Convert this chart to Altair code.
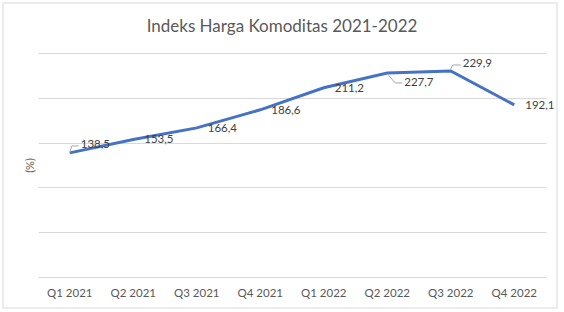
import altair as alt
import pandas as pd

quarters = ["Q1 2021", "Q2 2021", "Q3 2021", "Q4 2021", "Q1 2022", "Q2 2022", "Q3 2022", "Q4 2022"]
values = [138.5, 153.5, 166.4, 186.6, 211.2, 227.7, 229.9, 192.1]
labels = [f"{v:.1f}".replace(".", ",") for v in values]

df = pd.DataFrame({"q": quarters, "v": values, "label": labels})

FONT = "Lato"
x = alt.X("q:N", sort=quarters, title=None,
          axis=alt.Axis(labelAngle=0, ticks=False, domain=False, grid=False,
                        labelPadding=10, labelFontSize=11.5, labelColor="#595959", labelFont=FONT))
y = alt.Y("v:Q", scale=alt.Scale(domain=[0, 250]), title="(%)",
          axis=alt.Axis(values=[0, 50, 100, 150, 200, 250], labels=False, ticks=False, domain=False,
                        gridColor="#d9d9d9", gridWidth=1, titlePadding=3,
                        titleFontSize=11, titleFontWeight="normal", titleColor="#595959", titleFont=FONT))

base = alt.Chart(df)

frame = alt.Chart(alt.Data(values=[{"a": 1}])).mark_rect(
    filled=False, stroke="#d9d9d9", strokeWidth=1
).encode(x=alt.value(-35), x2=alt.value(519), y=alt.value(-50), y2=alt.value(255))

line = base.mark_line(color="#4472C4", strokeWidth=3).encode(x=x, y=y)

txt_style = dict(font=FONT, fontSize=11.5, color="#404040", align="left", baseline="middle")

default_q = ["Q2 2021", "Q3 2021", "Q4 2021", "Q1 2022", "Q4 2022"]
t_default = base.transform_filter(alt.FieldOneOfPredicate(field="q", oneOf=default_q)).mark_text(
    dx=11, dy=1, **txt_style).encode(x=x, y=y, text="label:N")
t_q1 = base.transform_filter(alt.datum.q == "Q1 2021").mark_text(
    dx=11, dy=-8, **txt_style).encode(x=x, y=y, text="label:N")
t_q6 = base.transform_filter(alt.datum.q == "Q2 2022").mark_text(
    dx=17, dy=10, **txt_style).encode(x=x, y=y, text="label:N")
t_q7 = base.transform_filter(alt.datum.q == "Q3 2022").mark_text(
    dx=12, dy=-7, **txt_style).encode(x=x, y=y, text="label:N")

leader_col = "#a6a6a6"
lead_q1a = base.transform_filter(alt.datum.q == "Q1 2021").mark_rule(
    color=leader_col, strokeWidth=1, x2Offset=2, y2Offset=-7).encode(x=x, x2="q:N", y=y, y2="v:Q")
lead_q1b = base.transform_filter(alt.datum.q == "Q1 2021").mark_rule(
    color=leader_col, strokeWidth=1, xOffset=2, x2Offset=9, yOffset=-7, y2Offset=-7).encode(x=x, x2="q:N", y=y, y2="v:Q")
lead_q6a = base.transform_filter(alt.datum.q == "Q2 2022").mark_rule(
    color=leader_col, strokeWidth=1, xOffset=1, yOffset=2, x2Offset=8, y2Offset=10).encode(x=x, x2="q:N", y=y, y2="v:Q")
lead_q6b = base.transform_filter(alt.datum.q == "Q2 2022").mark_rule(
    color=leader_col, strokeWidth=1, xOffset=8, x2Offset=15, yOffset=10, y2Offset=10).encode(x=x, x2="q:N", y=y, y2="v:Q")
lead_q7a = base.transform_filter(alt.datum.q == "Q3 2022").mark_rule(
    color=leader_col, strokeWidth=1, yOffset=-2, x2Offset=2, y2Offset=-6).encode(x=x, x2="q:N", y=y, y2="v:Q")
lead_q7b = base.transform_filter(alt.datum.q == "Q3 2022").mark_rule(
    color=leader_col, strokeWidth=1, xOffset=2, x2Offset=10, yOffset=-6, y2Offset=-6).encode(x=x, x2="q:N", y=y, y2="v:Q")

chart = alt.layer(
    frame, line, lead_q1a, lead_q1b, lead_q6a, lead_q6b, lead_q7a, lead_q7b,
    t_default, t_q1, t_q6, t_q7
).properties(
    width=508, height=224,
    background="white",
    title=alt.TitleParams("Indeks Harga Komoditas 2021-2022", font=FONT, fontSize=17,
                          fontWeight="normal", color="#595959", anchor="middle", dx=-10,
                          offset=-33, frame="group"),
    autosize=alt.AutoSizeParams(type="none"),
    padding={"left": 38, "top": 53, "right": 18, "bottom": 35},
).configure_view(stroke="transparent", strokeWidth=0).configure_axis(domain=False)

chart.save("out.html", embed_options={"renderer": "svg", "actions": False})
